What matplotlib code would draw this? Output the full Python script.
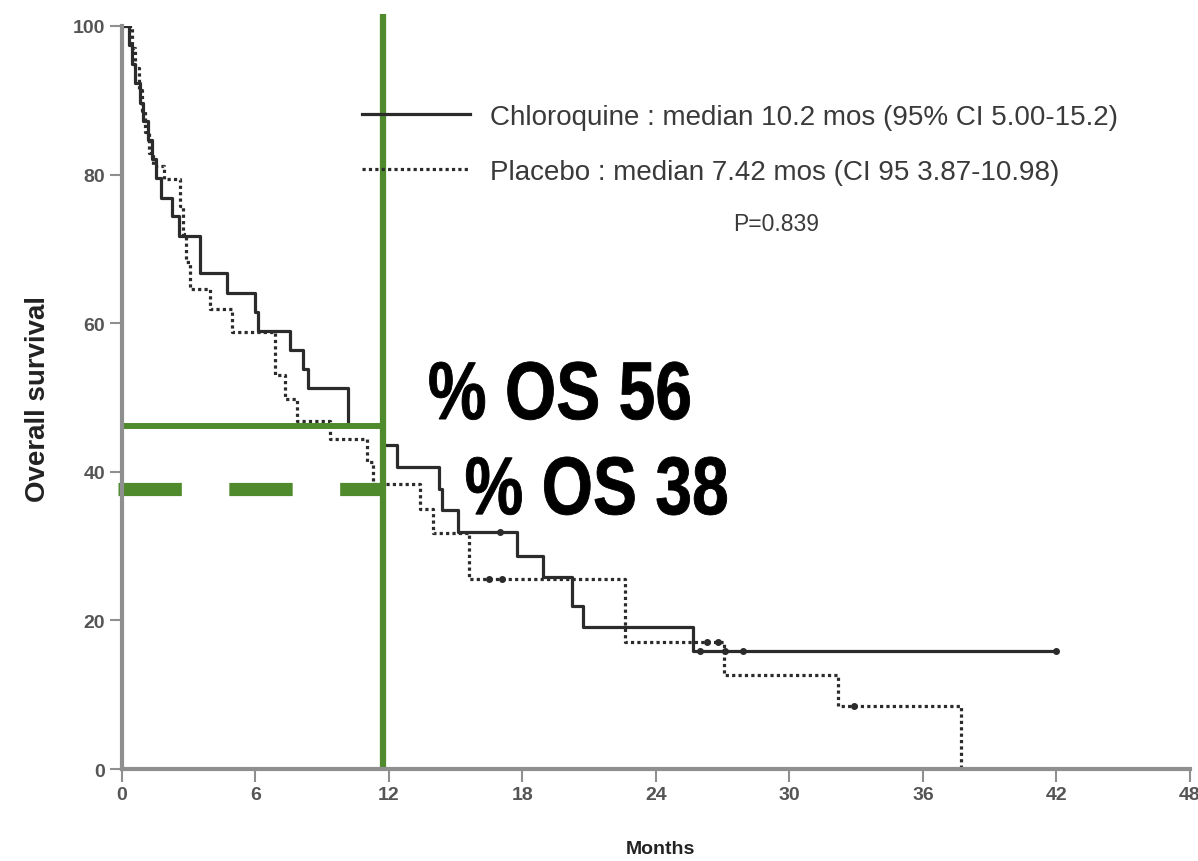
import matplotlib
matplotlib.use("Agg")
import matplotlib.pyplot as plt
from matplotlib.textpath import TextPath
from matplotlib.patches import PathPatch
from matplotlib.font_manager import FontProperties
from matplotlib.transforms import Affine2D

# ---- data (months, % surviving) ----
chq_t = [0, 0.3, 0.45, 0.6, 0.8, 0.95, 1.15, 1.35, 1.55, 1.75, 2.25, 2.55, 3.5, 4.7,
         5.98, 6.13, 7.55, 8.15, 8.37, 10.17, 11.75, 12.35, 14.25, 14.4, 15.1, 17.74,
         18.93, 20.21, 20.73, 25.68, 42]
chq_s = [100, 97.4, 94.9, 92.3, 89.7, 87.2, 84.6, 82.1, 79.5, 76.9, 74.4, 71.8, 66.7, 64.1,
         61.5, 59.0, 56.4, 53.8, 51.3, 46.2, 43.6, 40.6, 37.7, 34.8, 31.9, 28.7,
         25.8, 22.0, 19.1, 15.9, 15.9]
chq_cens_t = [17.0, 26.0, 27.1, 27.9, 42]
chq_cens_s = [31.9, 15.9, 15.9, 15.9, 15.9]

pl_t = [0, 0.45, 0.6, 0.75, 0.9, 1.05, 1.2, 1.4, 1.9, 2.6, 2.75, 2.9, 3.06, 3.96,
        4.93, 6.88, 7.33, 7.85, 9.35, 11.0, 11.3, 13.4, 14.0, 15.6, 22.6, 27.07, 32.2, 37.7]
pl_s = [100, 97.1, 94.3, 91.4, 88.6, 85.7, 82.9, 81.2, 79.4, 75.8, 72.0, 68.3, 64.6, 61.9,
        58.8, 53.0, 49.8, 46.9, 44.4, 41.3, 38.4, 35.0, 31.8, 25.6, 17.1, 12.6, 8.5, 0]
pl_cens_t = [16.5, 17.1, 26.3, 26.8, 32.9]
pl_cens_s = [25.6, 25.6, 17.1, 17.1, 8.5]

# 12-month landmark
landmark_month = 11.75
os_chq = 46.2
os_pl = 37.7

x_ticks = [0, 6, 12, 18, 24, 30, 36, 42, 48]
y_ticks = [0, 20, 40, 60, 80, 100]

lbl_chq = "Chloroquine : median 10.2 mos (95% CI 5.00-15.2)"
lbl_pl = "Placebo : median 7.42 mos (CI 95 3.87-10.98)"

plt.rcParams["font.family"] = ["Liberation Sans", "DejaVu Sans"]

green = "#4f8b2d"
grey = "#8f8f8f"
ink = "#2b2b2b"

fig = plt.figure(figsize=(11.98, 8.62), dpi=100)
ax = fig.add_axes([0.1018, 0.1067, 0.8915, 0.862])
ax.set_xlim(0, 48)
ax.set_ylim(0, 100)

ax.step(chq_t, chq_s, where="post", color=ink, lw=2.3, label=lbl_chq)
ax.step(pl_t, pl_s, where="post", color=ink, lw=2.3, linestyle=(0, (1, 1)), label=lbl_pl)
ax.plot(chq_cens_t, chq_cens_s, "o", color=ink, ms=4, ls="none")
ax.plot(pl_cens_t, pl_cens_s, "o", color=ink, ms=4, ls="none")

# green landmark lines
ax.plot([0, landmark_month], [os_chq, os_chq], color=green, lw=4.3, solid_capstyle="butt")
ax.plot([-0.17, landmark_month], [os_pl, os_pl], color=green, lw=9.5,
        linestyle=(0, (4.8, 3.6)), dash_capstyle="butt", clip_on=False)
ax.plot([landmark_month, landmark_month], [0, 101.6], color=green, lw=4.5, clip_on=False,
        solid_capstyle="butt")


def condensed_text(s, x, y, sx, sy):
    # bold condensed lettering: text path squeezed horizontally, placed at data (x, y) baseline
    tp = TextPath((0, 0), s, size=1, prop=FontProperties(family="Liberation Sans", weight="bold"))
    px, py = ax.transData.transform((x, y))
    tr = Affine2D().scale(sx, sy).translate(px, py)
    patch = PathPatch(tp, transform=tr, color="black", lw=0.6)
    fig.add_artist(patch)


condensed_text("% OS 56", 13.75, 47.1, 66, 82)
condensed_text("% OS 38", 15.4, 34.3, 66, 82)

leg = ax.legend(loc="upper left", bbox_to_anchor=(0.2247, 0.895), frameon=False,
                fontsize=20, handlelength=3.9, handletextpad=0.72, labelspacing=1.05,
                borderpad=0, borderaxespad=0)
for t in leg.get_texts():
    t.set_color("#3a3a3a")
ax.text(29.4, 73.4, "P=0.839", fontsize=16.5, color="#3a3a3a", ha="center", va="center")

ax.set_xticks(x_ticks)
ax.set_yticks(y_ticks)
for s in ["top", "right"]:
    ax.spines[s].set_visible(False)
for s in ["left", "bottom"]:
    ax.spines[s].set_color(grey)
    ax.spines[s].set_linewidth(3)
ax.tick_params(colors=grey, labelcolor="#555555", length=9, width=1.5, labelsize=14, pad=3)
for lab in ax.get_xticklabels() + ax.get_yticklabels():
    lab.set_fontweight("bold")

ax.set_ylabel("Overall survival", fontsize=20, fontweight="bold", color="#222222")
ax.yaxis.set_label_coords(-0.066, 0.5)
fig.text(660 / 1198, 1 - 850 / 862, "Months", fontsize=14, fontweight="bold",
         color="#222222", ha="center", va="center")

fig.savefig("out.png", dpi=100)
